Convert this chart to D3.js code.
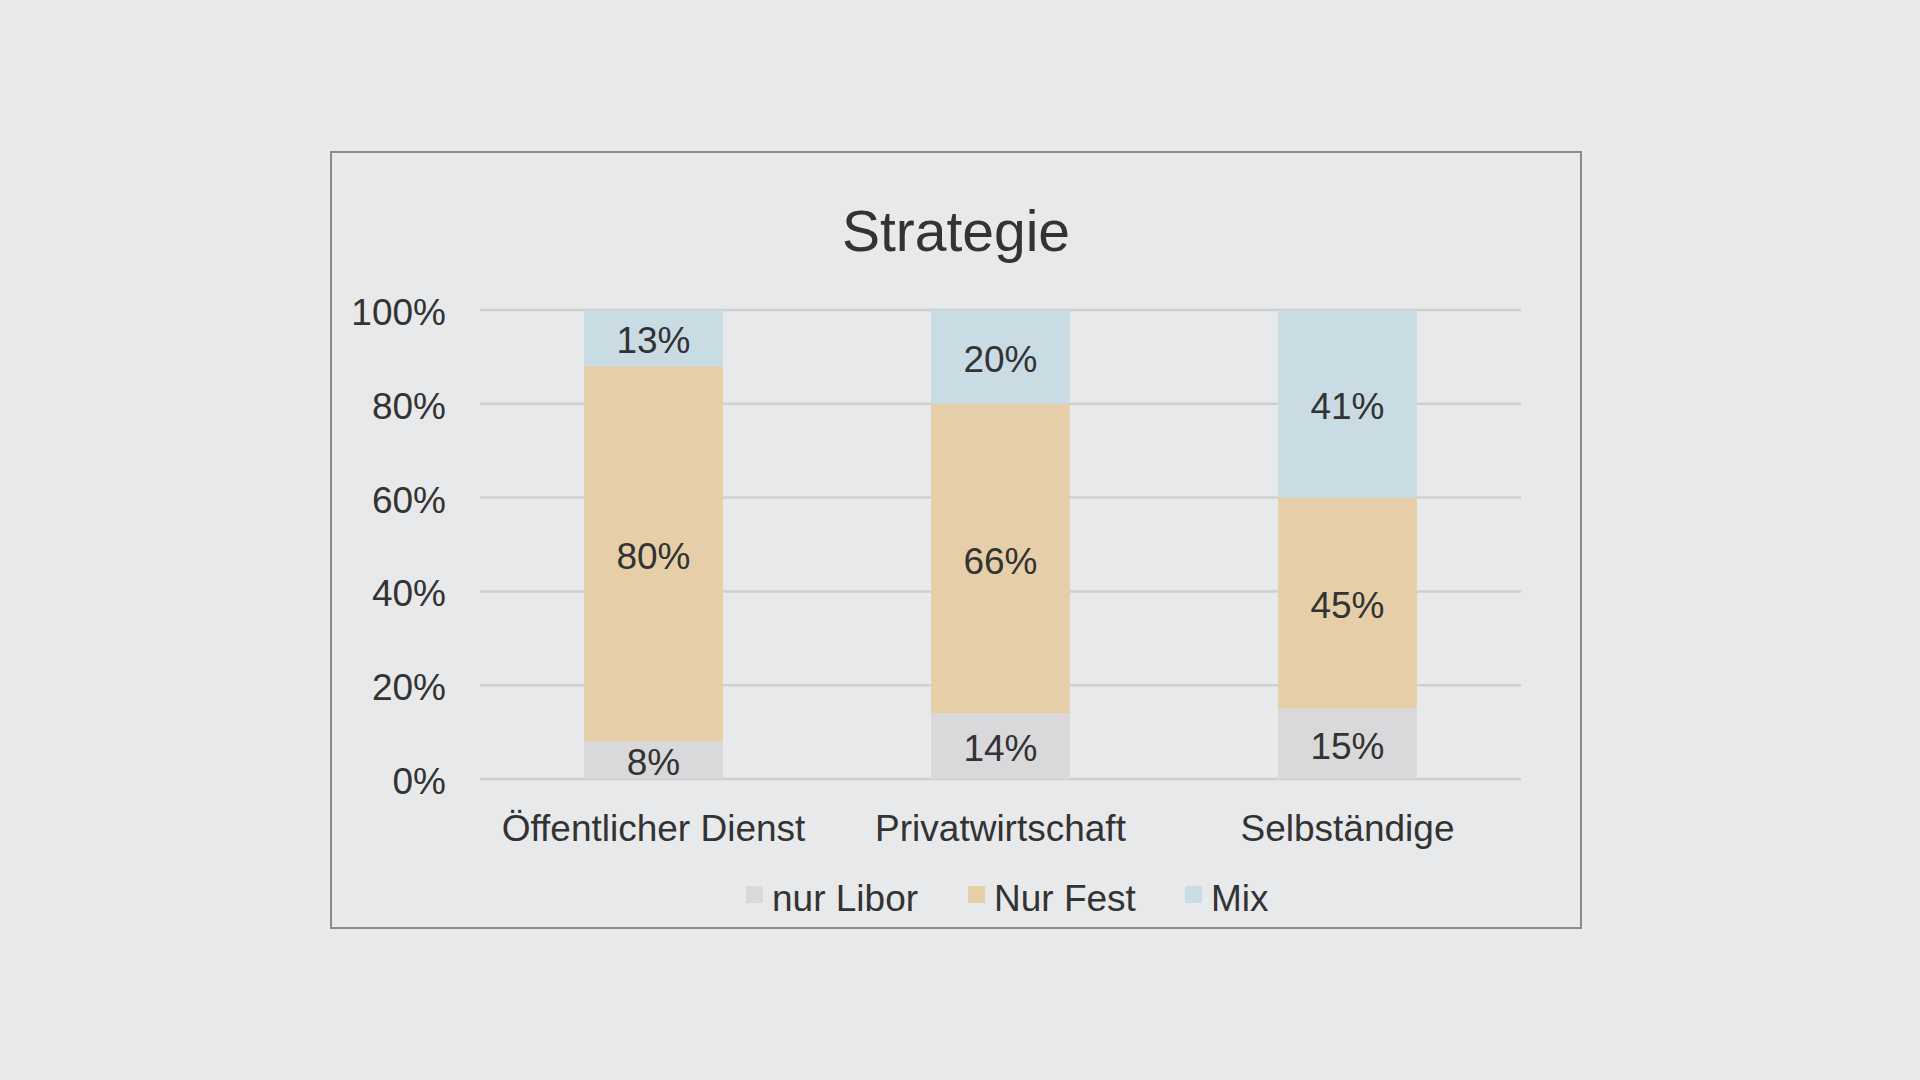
<!doctype html>
<html>
<head>
<meta charset="utf-8">
<script src="https://cdn.jsdelivr.net/npm/d3@7"></script>
<style>
  body { margin: 0; background: #e8e9eb; }
  svg text { font-family: "Liberation Sans", Arial, sans-serif; fill: #333333; }
</style>
</head>
<body>
<div id="main"></div>
<script>
var categories = ['Öffentlicher Dienst', 'Privatwirtschaft', 'Selbständige'];
var seriesNames = ['nur Libor', 'Nur Fest', 'Mix'];
var nurLibor = [8, 14, 15];
var nurFest = [80, 66, 45];
var mix = [13, 20, 41];
var yTicks = [0, 20, 40, 60, 80, 100];
var colors = ['#d9d9db', '#e6cfa8', '#c9dbe3'];

var svg = d3.select('#main').append('svg')
  .attr('width', 1920).attr('height', 1080);

svg.append('rect').attr('width', 1920).attr('height', 1080).attr('fill', '#e8e9eb');

// chart frame
svg.append('rect')
  .attr('x', 331).attr('y', 152).attr('width', 1250).attr('height', 776)
  .attr('fill', 'none').attr('stroke', '#8a8a8a').attr('stroke-width', 2);

svg.append('text')
  .attr('x', 956).attr('y', 251).attr('text-anchor', 'middle')
  .attr('font-size', 57).text('Strategie');

var x = d3.scaleBand().domain(categories).range([480, 1521]).paddingInner(0.6).paddingOuter(0.3);
var y = d3.scaleLinear().domain([0, 100]).range([779, 310]).clamp(true);

// gridlines
svg.append('g').selectAll('line').data(yTicks).enter().append('line')
  .attr('x1', 480).attr('x2', 1521)
  .attr('y1', function(d) { return y(d); }).attr('y2', function(d) { return y(d); })
  .attr('stroke', '#cfcfd1').attr('stroke-width', 2.5);

svg.append('g').selectAll('text').data(yTicks).enter().append('text')
  .attr('x', 446).attr('y', function(d) { return y(d) + 15; })
  .attr('text-anchor', 'end').attr('font-size', 37)
  .text(function(d) { return d + '%'; });

var rows = categories.map(function(c, i) {
  return { cat: c, 'nur Libor': nurLibor[i], 'Nur Fest': nurFest[i], 'Mix': mix[i] };
});
var stacked = d3.stack().keys(seriesNames)(rows);

var layers = svg.append('g').selectAll('g').data(stacked).enter().append('g')
  .attr('fill', function(d, i) { return colors[i]; });

layers.selectAll('rect').data(function(d) { return d; }).enter().append('rect')
  .attr('x', function(d) { return x(d.data.cat); })
  .attr('width', x.bandwidth())
  .attr('y', function(d) { return y(d[1]); })
  .attr('height', function(d) { return y(d[0]) - y(d[1]); });

layers.selectAll('text').data(function(d) { return d.map(function(p) { return { p: p, key: d.key }; }); })
  .enter().append('text')
  .attr('x', function(d) { return x(d.p.data.cat) + x.bandwidth() / 2; })
  .attr('y', function(d) { return (y(d.p[0]) + y(d.p[1])) / 2 + 15; })
  .attr('text-anchor', 'middle').attr('font-size', 37)
  .text(function(d) { return d.p.data[d.key] + '%'; });

// category labels
svg.append('g').selectAll('text').data(categories).enter().append('text')
  .attr('x', function(d) { return x(d) + x.bandwidth() / 2; })
  .attr('y', 841).attr('text-anchor', 'middle').attr('font-size', 37)
  .text(function(d) { return d; });

// legend
var legendX = [746, 968, 1185];
var legend = svg.append('g').selectAll('g').data(seriesNames).enter().append('g')
  .attr('transform', function(d, i) { return 'translate(' + legendX[i] + ',890)'; });
legend.append('rect').attr('width', 17).attr('height', 17).attr('y', -4)
  .attr('fill', function(d, i) { return colors[i]; });
legend.append('text').attr('x', 26).attr('y', 21).attr('font-size', 37)
  .text(function(d) { return d; });
</script>
</body>
</html>
